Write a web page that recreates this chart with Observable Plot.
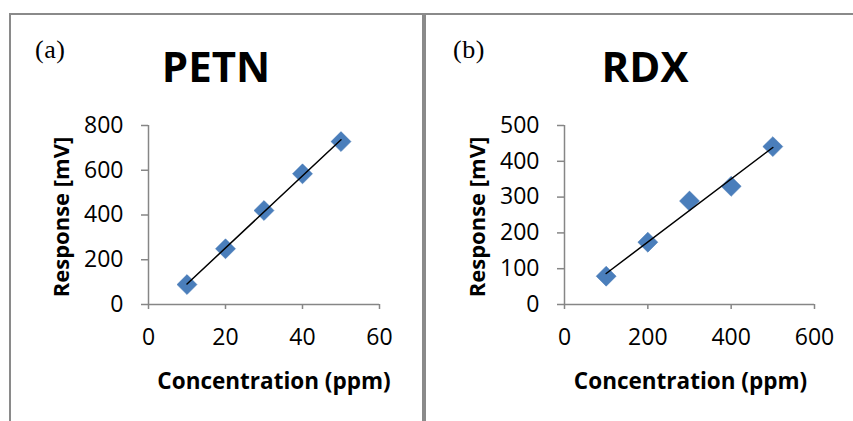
<!DOCTYPE html>
<html>
<head>
<meta charset="utf-8">
<script src="https://cdn.jsdelivr.net/npm/d3@7"></script>
<script src="https://cdn.jsdelivr.net/npm/@observablehq/plot@0.6"></script>
<style>
  html, body { margin: 0; padding: 0; background: white; }
  #root { position: relative; width: 853px; height: 421px; overflow: hidden; background: white; }
  .panel { position: absolute; top: 13px; height: 430px; box-sizing: border-box; border: 2px solid #8a8a8a; border-bottom: none; }
  .plot { position: absolute; top: 0; }
  .tag { position: absolute; font-family: "Liberation Serif", serif; font-size: 26px; line-height: 1; color: #000; letter-spacing: 0.5px; }
  .title { position: absolute; font-family: "Open Sans", sans-serif; font-weight: bold; font-size: 42px; line-height: 1; text-align: center; width: 240px; color: #000; }
</style>
</head>
<body>
<div id="root">
  <div class="panel" style="left:9px;width:415px;"></div>
  <div class="panel" style="left:424px;width:440px;"></div>
  <div id="plotA" class="plot" style="left:0px;"></div>
  <div id="plotB" class="plot" style="left:424px;"></div>
  <div class="tag" style="left:35px;top:37px;">(a)</div>
  <div class="tag" style="left:453px;top:37px;">(b)</div>
  <div class="title" style="left:96px;top:45px;">PETN</div>
  <div class="title" style="left:525px;top:45px;">RDX</div>
</div>
<script>
// PETN panel (a)
const petnConc = [10, 20, 30, 40, 50];
const petnResp = [89, 249, 420, 584, 728];
const petnXTicks = [0, 20, 40, 60];
const petnYTicks = [0, 200, 400, 600, 800];

// RDX panel (b)
const rdxConc = [100, 200, 300, 400, 500];
const rdxResp = [79, 174, 289, 330, 441];
const rdxXTicks = [0, 200, 400, 600];
const rdxYTicks = [0, 100, 200, 300, 400, 500];

const xLabel = "Concentration (ppm)";
const yLabel = "Response [mV]";

const axisGray = "#868686";
const markerBlue = "#4a7ebb";

function panel({conc, resp, xTicks, yTicks, width, marginLeft, marginRight, xLabelDx}) {
  const data = conc.map((c, i) => ({c, r: resp[i]}));
  return Plot.plot({
    width,
    height: 421,
    marginTop: 125,
    marginBottom: 117,
    marginLeft,
    marginRight,
    style: {fontFamily: "Open Sans, sans-serif", fontSize: "23px", color: "black", background: "none", overflow: "visible"},
    x: {domain: [xTicks[0], xTicks[xTicks.length - 1]]},
    y: {domain: [yTicks[0], yTicks[yTicks.length - 1]]},
    marks: [
      Plot.axisX({ticks: xTicks, tickSize: 5, tickPadding: 19, stroke: axisGray, fill: "black", strokeWidth: 1.5, fontSize: 23, label: null, tickFormat: d => String(d)}),
      Plot.axisY({ticks: yTicks, tickSize: 7, tickPadding: 18, stroke: axisGray, fill: "black", strokeWidth: 1.5, fontSize: 23, label: null, tickFormat: d => String(d)}),
      Plot.ruleY([yTicks[0]], {stroke: axisGray, strokeWidth: 1.5}),
      Plot.ruleX([xTicks[0]], {stroke: axisGray, strokeWidth: 1.5}),
      Plot.dot(data, {x: "c", y: "r", symbol: "diamond2", r: 9, fill: markerBlue, stroke: "#3f73b0", strokeWidth: 0.5}),
      Plot.linearRegressionY(data, {x: "c", y: "r", stroke: "black", strokeWidth: 1.5, ci: 0}),
      Plot.text([yLabel], {frameAnchor: "left", textAnchor: "middle", lineAnchor: "middle", rotate: -90, dx: -87, dy: 2, fontWeight: "bold", fontSize: 22, fill: "black"}),
      Plot.text([xLabel], {frameAnchor: "bottom", textAnchor: "middle", lineAnchor: "middle", dx: xLabelDx, dy: 77, fontWeight: "bold", fontSize: 22.5, fill: "black"})
    ]
  });
}

document.getElementById("plotA").append(panel({
  conc: petnConc, resp: petnResp, xTicks: petnXTicks, yTicks: petnYTicks,
  width: 422, marginLeft: 148, marginRight: 43, xLabelDx: 10
}));
document.getElementById("plotB").append(panel({
  conc: rdxConc, resp: rdxResp, xTicks: rdxXTicks, yTicks: rdxYTicks,
  width: 429, marginLeft: 140, marginRight: 39, xLabelDx: 1
}));
</script>
</body>
</html>
